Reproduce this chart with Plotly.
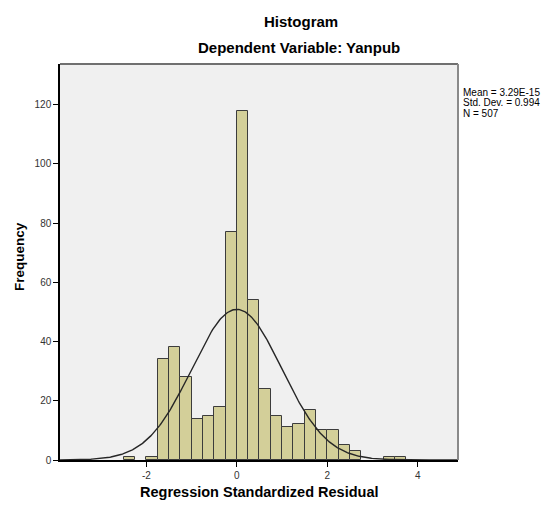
import numpy as np
import plotly.graph_objects as go

# Histogram bins (left edges) and frequencies
bin_left = [-2.5, -2.0, -1.75, -1.5, -1.25, -1.0, -0.75, -0.5, -0.25, 0.0, 0.25,
            0.5, 0.75, 1.0, 1.25, 1.5, 1.75, 2.0, 2.25, 2.5, 3.25, 3.5]
counts = [1, 1, 34, 38, 28, 14, 15, 18, 77, 118, 54,
          24, 15, 11, 12, 17, 10, 10, 5, 3, 1, 1]
bin_width = 0.25

# Summary statistics shown on the chart
mean_val = 3.29e-15
std_val = 0.994
n_val = 507

x_ticks = [-2, 0, 2, 4]
y_ticks = [0, 20, 40, 60, 80, 100, 120]

centers = [b + bin_width / 2 for b in bin_left]

# Normal curve implied by the stated mean / std / N
xs = np.linspace(-3.91, 4.89, 400)
ys = n_val * bin_width / (std_val * np.sqrt(2 * np.pi)) * np.exp(-0.5 * ((xs - mean_val) / std_val) ** 2)

FONT = "Liberation Sans, Arial, sans-serif"

fig = go.Figure()
fig.add_trace(go.Bar(
    x=centers, y=counts, width=bin_width,
    marker=dict(color="#D3CF99", line=dict(color="#3c3c3c", width=1)),
    hoverinfo="x+y", showlegend=False,
))
fig.add_trace(go.Scatter(
    x=xs, y=ys, mode="lines",
    line=dict(color="#262626", width=1.4),
    showlegend=False, hoverinfo="skip",
))

W, H = 548, 506
L, R, T, B = 60, 90, 64, 46
pw = W - L - R
ph = H - T - B


def px_x(p):
    return (p - L) / pw


def px_y(p):
    return 1 - (p - T) / ph


def note(text, x, y, size, xanchor="center", angle=0):
    return dict(text=text, x=px_x(x), y=px_y(y), xref="paper", yref="paper",
                xanchor=xanchor, yanchor="middle", showarrow=False, textangle=angle,
                font=dict(size=size, color="#000", family=FONT))


annotations = [
    note("<b>Histogram</b>", 301, 21, 15),
    note("<b>Dependent Variable: Yanpub</b>", 299, 47, 15),
    note("Mean = 3.29E-15", 461, 92, 10, "left"),
    note("Std. Dev. = 0.994", 461, 102.7, 10, "left"),
    note("N = 507", 461, 113.4, 10, "left"),
    note("<b>Regression Standardized Residual</b>", 259, 492, 14.5),
    note("<b>Frequency</b>", 19, 257, 13.5, angle=-90),
]

shapes = [
    dict(type="line", xref="paper", yref="paper", x0=0, x1=1, y0=1, y1=1,
         line=dict(color="#707070", width=2), layer="above"),
    dict(type="line", xref="paper", yref="paper", x0=1, x1=1, y0=0, y1=1,
         line=dict(color="#8a8a8a", width=2), layer="above"),
]

fig.update_layout(
    width=W, height=H,
    margin=dict(l=L, r=R, t=T, b=B, pad=0, autoexpand=False),
    paper_bgcolor="#ffffff", plot_bgcolor="#F0F0F0",
    bargap=0,
    font=dict(family=FONT, color="#000"),
    annotations=annotations,
    shapes=shapes,
    xaxis=dict(
        range=[-3.91, 4.89], tickvals=x_ticks, ticktext=[str(v) for v in x_ticks],
        showgrid=False, zeroline=False, showline=True, linecolor="#000", linewidth=1.5,
        ticks="outside", ticklen=5, tickcolor="#000", tickwidth=1, automargin=False,
        tickfont=dict(size=10, color="#333", family=FONT),
    ),
    yaxis=dict(
        range=[0, 133.7], tickvals=y_ticks, ticktext=[str(v) for v in y_ticks],
        showgrid=False, zeroline=False, showline=True, linecolor="#000", linewidth=1.5,
        ticks="outside", ticklen=5, tickcolor="#000", tickwidth=1, automargin=False,
        tickfont=dict(size=10, color="#333", family=FONT),
    ),
)

fig.write_html("out.html", config={"displayModeBar": False},
               post_script="document.body.style.margin='0';document.body.style.overflow='hidden';")
